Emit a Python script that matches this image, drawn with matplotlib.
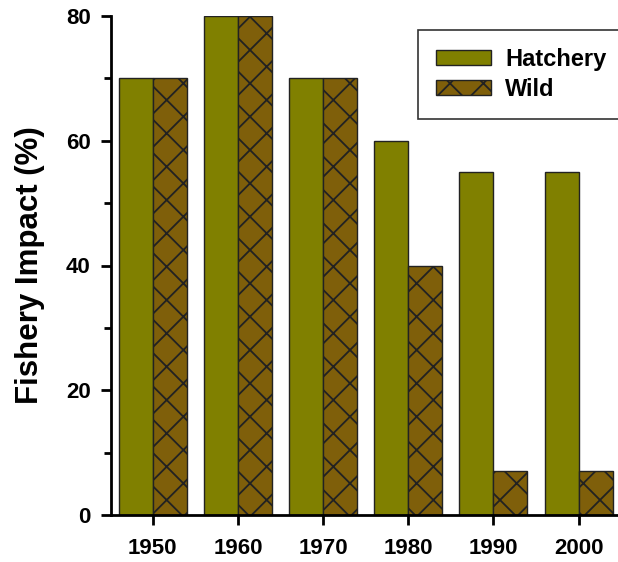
import matplotlib
matplotlib.use("Agg")
import matplotlib.pyplot as plt
from matplotlib.ticker import MultipleLocator
import numpy as np

decades = ["1950", "1960", "1970", "1980", "1990", "2000"]
hatchery = [70, 80, 70, 60, 55, 55]
wild = [70, 80, 70, 40, 7, 7]

plt.rcParams["font.family"] = ["Liberation Sans", "DejaVu Sans"]
plt.rcParams["font.weight"] = "bold"
plt.rcParams["hatch.linewidth"] = 1.3

W, H = 618, 562
fig = plt.figure(figsize=(W / 100, H / 100), dpi=100)
ax = fig.add_axes([111 / W, 1 - 515 / H, 540 / W, (515 - 16) / H])

x = np.arange(len(decades))
w = 0.4
ax.bar(x - w / 2, hatchery, w, color="#808000", edgecolor="#222222", linewidth=1, label="Hatchery")
ax.bar(x + w / 2, wild, w, color="#7f5f0a", edgecolor="#222222", linewidth=1, hatch="x", label="Wild")

ax.set_xlim(-0.49, 5.85)
ax.set_ylim(0, 80)
ax.set_xticks(x)
ax.set_xticklabels(decades, fontsize=16, fontweight="bold")
ax.set_yticks([0, 20, 40, 60, 80])
ax.set_yticklabels(["0", "20", "40", "60", "80"], fontsize=16, fontweight="bold")
ax.yaxis.set_minor_locator(MultipleLocator(10))
ax.tick_params(which="major", direction="out", length=7.5, width=2, pad=7)
ax.tick_params(which="major", axis="x", pad=9)
ax.tick_params(which="minor", axis="y", direction="out", length=5, width=2)
ax.set_ylabel("Fishery Impact (%)", fontsize=22.5, fontweight="bold", labelpad=15)

for s in ("top", "right"):
    ax.spines[s].set_visible(False)
for s in ("left", "bottom"):
    ax.spines[s].set_linewidth(2)
    ax.spines[s].set_clip_on(False)

leg = ax.legend(loc="upper left", bbox_to_anchor=(418 / W, 1 - 30 / H), bbox_transform=fig.transFigure,
                fontsize=17, frameon=True, fancybox=False, edgecolor="black", borderpad=0.75,
                handlelength=2.35, handleheight=0.65, handletextpad=0.6, labelspacing=0.3,
                borderaxespad=0)
leg.get_frame().set_linewidth(1.2)
for t in leg.get_texts():
    t.set_fontweight("bold")

fig.savefig("out.png", dpi=100)
